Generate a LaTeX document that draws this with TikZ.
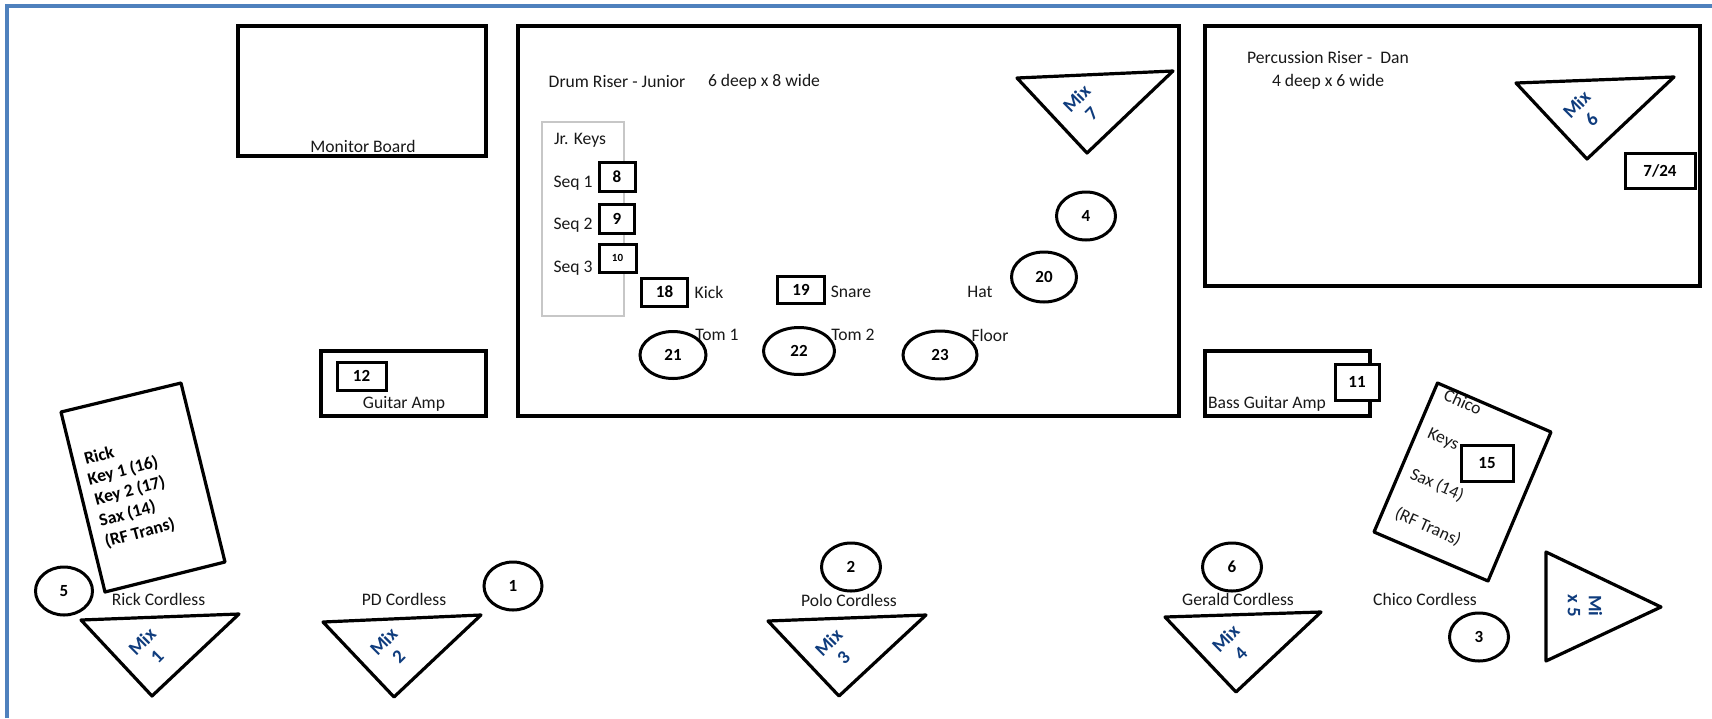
\documentclass[tikz,border=0pt]{standalone}
\usepackage{fontspec}
\setmainfont{Carlito}
\usetikzlibrary{shapes.geometric}
\definecolor{frameblue}{RGB}{79,129,189}
\definecolor{mixblue}{RGB}{15,60,125}
\tikzset{
  x=0.5pt,y=-0.5pt,
  heavy/.style={draw=black,line width=1.6pt,line join=round},
  riser/.style={draw=black,line width=2pt},
  numbox/.style={draw=black,line width=1.5pt,fill=white,inner sep=0pt,font=\fontsize{8.5}{9}\selectfont\bfseries},
  numcirc/.style={draw=black,line width=1.5pt,ellipse,inner sep=0pt,font=\fontsize{8.5}{9}\selectfont\bfseries},
  lbl/.style={inner sep=0pt,text=black!90,font=\fontsize{8.8}{10}\selectfont},
  boldlbl/.style={inner sep=0pt,rotate=15,font=\fontsize{8.8}{10}\selectfont\bfseries},
  mixlbl/.style={inner sep=0pt,align=center,text=mixblue,font=\bfseries\fontsize{9.5}{10.5}\selectfont},
}
\newcommand{\numbx}[6]{\node[numbox,minimum width=#4*0.5pt,minimum height=#5*0.5pt] (#1) at (#2,#3) {#6};}
\newcommand{\numel}[6]{\node[numcirc,minimum width=#4*1pt,minimum height=#5*1pt] (#1) at (#2,#3) {#6};}
\begin{document}
\begin{tikzpicture}
\useasboundingbox (0,0) rectangle (1712,718);
\fill[white] (0,0) rectangle (1712,718);
\draw[frameblue,line width=2pt] (7,718) -- (7,6) -- (1712,6);
% risers and amps
\draw[riser] (238,26) rectangle (486,156);
\draw[riser] (518,26) rectangle (1179,416);
\draw[riser] (1205,26) rectangle (1700,286);
\draw[riser] (321,351) rectangle (486,416);
\draw[riser] (1204.5,351) rectangle (1370,416);
\node[lbl] (monlbl) at (363,146) {Monitor Board};
\node[lbl] (galbl) at (404,404) {Guitar Amp};
\node[lbl] (bglbl) at (1267,404) {Bass Guitar Amp};
% drum riser
\node[lbl] (drumlbl) at (617,82) {Drum Riser - Junior};
\node[lbl] (drumsize) at (764,82) {6 deep x 8 wide};
\draw[black!22,line width=0.7pt] (542,122) rectangle (624,316);
\node[lbl] (jr) at (580,140) {Jr. Keys};
\node[lbl] (s1) at (573,183) {Seq 1};
\node[lbl] (s2) at (573,225) {Seq 2};
\node[lbl] (s3) at (573,268) {Seq 3};
\numbx{b8}{617}{177}{36}{29}{8}
\numbx{b9}{617}{219}{35}{29}{9}
\node[numbox,minimum width=18.5pt,minimum height=14pt,font=\fontsize{5.5}{6}\selectfont\bfseries] (b10) at (617.5,258) {10};
\numbx{b18}{664.5}{292}{46}{28}{18}
\numbx{b19}{801}{290}{47}{27}{19}
\node[lbl] (kick) at (709,292) {Kick};
\node[lbl] (snare) at (851,292) {Snare};
\node[lbl] (hat) at (980,292) {Hat};
\node[lbl] (tom1) at (717,335) {Tom 1};
\node[lbl] (tom2) at (853,335) {Tom 2};
\node[lbl] (floor) at (990,335) {Floor};
\numel{c21}{673}{355}{33}{23.5}{21}
\numel{c22}{799}{351}{35.5}{23.5}{22}
\numel{c23}{940}{355}{37}{24}{23}
\numel{c20}{1044}{277}{32.5}{25}{20}
\numel{c4}{1086}{216}{29.5}{24}{4}
% mix 7
\draw[heavy] (1017,78) -- (1173,71) -- (1087,153) -- cycle;
\node[mixlbl,rotate=45] (m7) at (1084,106) {Mix\\7};
% percussion
\node[lbl] (perc) at (1328,57.5) {Percussion Riser -\ \ Dan};
\node[lbl] (percsize) at (1328,81.5) {4 deep x 6 wide};
\draw[heavy] (1516,83) -- (1674,77) -- (1587,159) -- cycle;
\node[mixlbl,rotate=45] (m6) at (1584,112) {Mix\\6};
\numbx{b724}{1660}{171}{70}{35}{7/24}
% amps boxes
\numbx{b12}{361.5}{376}{49}{28}{12}
\numbx{b11}{1357}{382}{44}{36}{11}
% Rick
\draw[heavy] (61,412) -- (181,383) -- (225,562) -- (105,592) -- cycle;
\node[boldlbl] (ri) at (99,455) {Rick};
\node[boldlbl] (k1) at (123,471) {Key 1 (16)};
\node[boldlbl] (k2) at (130,491) {Key 2 (17)};
\node[boldlbl] (sx) at (127.5,514) {Sax (14)};
\node[boldlbl] (rf) at (140,533) {(RF Trans)};
\numel{c5}{64}{591}{28.5}{24}{5}
\node[lbl] (rc) at (158.5,599) {Rick Cordless};
\draw[heavy] (81,620) -- (239,614) -- (152,696) -- cycle;
\node[mixlbl,rotate=45] (m1) at (149.5,649) {Mix\\1};
% PD
\node[lbl] (pd) at (404,599) {PD Cordless};
\numel{c1}{513}{586}{29}{24}{1}
\draw[heavy] (323,622) -- (481,615) -- (394,697) -- cycle;
\node[mixlbl,rotate=45] (m2) at (391,649) {Mix\\2};
% Polo
\numel{c2}{851}{567}{29.5}{24}{2}
\node[lbl] (po) at (849,600) {Polo Cordless};
\draw[heavy] (768,621) -- (926,615) -- (839,696) -- cycle;
\node[mixlbl,rotate=45] (m3) at (836,650) {Mix\\3};
% Gerald
\numel{c6}{1232}{567}{29.5}{24}{6}
\node[lbl] (ge) at (1238,599) {Gerald Cordless};
\draw[heavy] (1165,617) -- (1321,612) -- (1236,692) -- cycle;
\node[mixlbl,rotate=45] (m4) at (1233,646) {Mix\\4};
% Chico
\draw[heavy] (1437.5,383) -- (1551,432) -- (1488,581) -- (1374,532) -- cycle;
\node[lbl,rotate=-24] (ch) at (1463,402) {Chico};
\node[lbl,rotate=-24] (ke) at (1443,440) {Keys};
\node[lbl,rotate=-24] (sa) at (1437,485) {Sax (14)};
\node[lbl,rotate=-24] (rt) at (1428,527) {(RF Trans)};
\numbx{b15}{1487}{463}{52}{36}{15}
\node[lbl] (cc) at (1425,599) {Chico Cordless};
\numel{c3}{1479}{637}{29.5}{24}{3}
\draw[heavy] (1546,552) -- (1661,607) -- (1546,661) -- cycle;
\node[mixlbl,rotate=-90] (m5) at (1585,606) {Mi\\x 5};
\end{tikzpicture}
\end{document}
